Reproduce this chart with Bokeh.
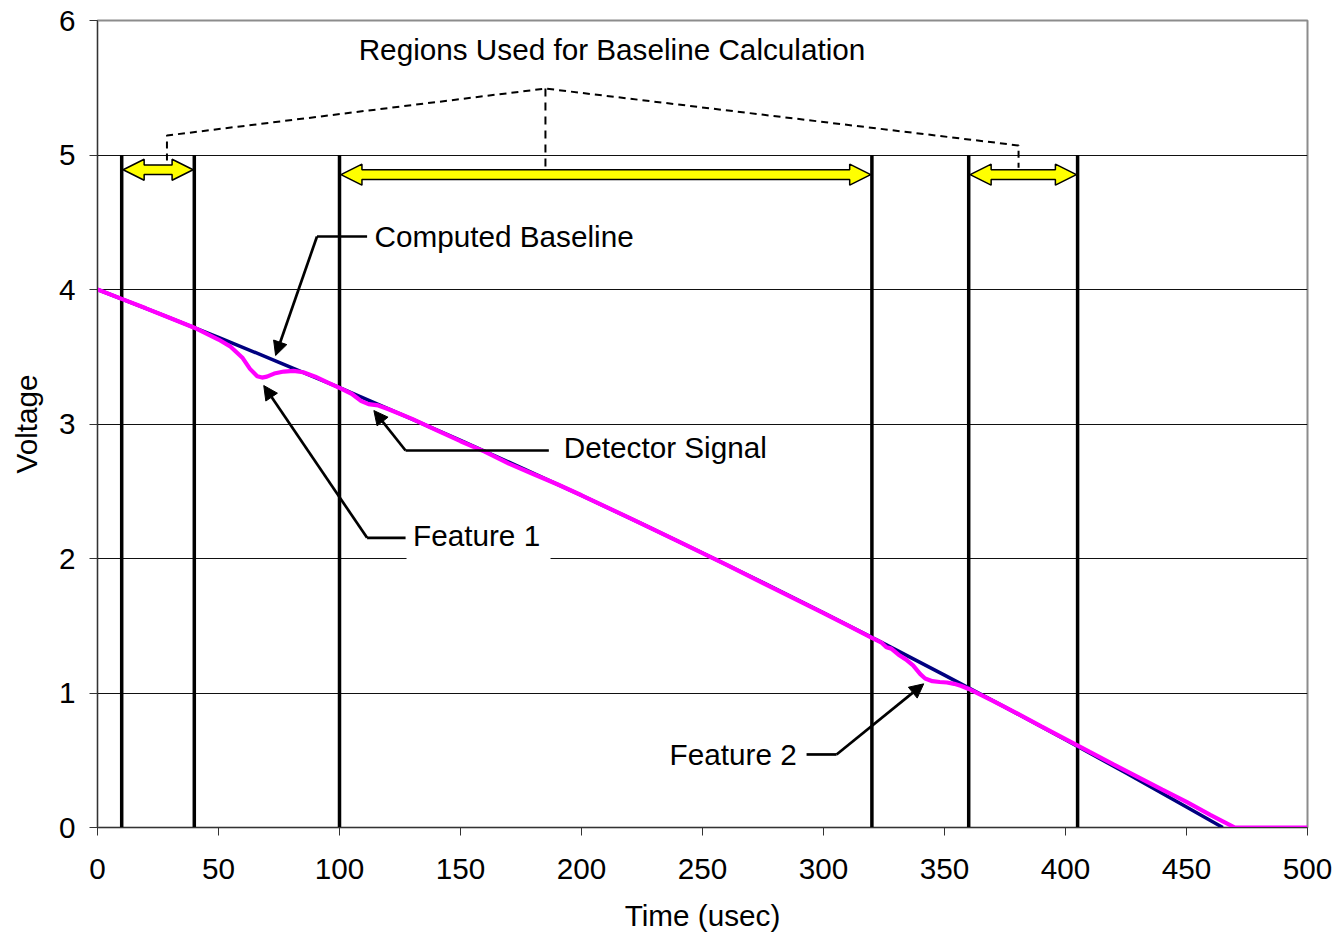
from bokeh.plotting import figure
from bokeh.models import (Range1d, FixedTicker, Label, Arrow, NormalHead,
                          BoxAnnotation)
from bokeh.embed import file_html
from bokeh.resources import INLINE

# ---------------- data ----------------
time_base = [0, 25, 50, 75, 100, 125, 150, 175, 200, 225, 250, 275, 300,
             325, 350, 375, 400, 425, 450, 465]
baseline_v = [4.000, 3.824, 3.644, 3.459, 3.270, 3.076, 2.878, 2.676, 2.469,
              2.257, 2.041, 1.821, 1.596, 1.367, 1.133, 0.895, 0.652, 0.405,
              0.153, 0.0]

time_sig = [0, 10, 20, 30, 40, 45, 50, 55, 60, 63, 66, 68, 70, 73, 77, 81, 85,
            90, 95, 100, 105, 109, 112, 116, 120, 130, 140, 150, 160, 170,
            180, 190, 200, 220, 240, 260, 280, 300, 310, 320, 324, 326, 328,
            331, 334, 337, 340, 342, 345, 348, 351, 354, 357, 360, 370, 380,
            390, 400, 410, 420, 430, 440, 450, 460, 465, 470, 480, 490, 500]
signal_v = [4.000, 3.930, 3.860, 3.788, 3.716, 3.672, 3.628, 3.575, 3.490,
            3.410, 3.355, 3.345, 3.352, 3.375, 3.390, 3.395, 3.385, 3.352,
            3.310, 3.268, 3.225, 3.170, 3.148, 3.138, 3.112, 3.038, 2.955,
            2.872, 2.795, 2.705, 2.628, 2.552, 2.470, 2.300, 2.128, 1.952,
            1.772, 1.594, 1.502, 1.410, 1.374, 1.340, 1.330, 1.285, 1.250,
            1.205, 1.140, 1.108, 1.088, 1.082, 1.078, 1.068, 1.052, 1.030,
            0.942, 0.848, 0.752, 0.657, 0.562, 0.468, 0.375, 0.282, 0.190,
            0.092, 0.046, 0.0, 0.0, 0.0, 0.0]

region_bounds = [10, 40, 100, 320, 360, 405]
region_top = 5

x_ticks = [0, 50, 100, 150, 200, 250, 300, 350, 400, 450, 500]
y_ticks = [0, 1, 2, 3, 4, 5, 6]

title_text = "Regions Used for Baseline Calculation"
label_texts = ["Computed Baseline", "Detector Signal", "Feature 1", "Feature 2"]

# ---------------- figure ----------------
FONT = "Liberation Sans"
FS = "29.7px"

p = figure(width=1338, height=937, x_range=Range1d(0, 500),
           y_range=Range1d(0, 6), output_backend="svg",
           toolbar_location=None, min_border_left=97, min_border_right=31,
           min_border_top=20, min_border_bottom=110,
           x_axis_label="Time (usec)", y_axis_label="Voltage")
p.background_fill_color = "white"
p.border_fill_color = "white"
p.outline_line_color = "#8c8c8c"
p.outline_line_width = 2

PX_X = 1210 / 500.0
PX_Y = 807 / 6.0

for ax, ticks in ((p.xaxis[0], x_ticks), (p.yaxis[0], y_ticks)):
    ax.ticker = FixedTicker(ticks=ticks)
    ax.minor_tick_line_color = None
    ax.major_tick_in = 0
    ax.major_tick_out = 8
    ax.axis_line_color = "#333333"
    ax.major_tick_line_color = "#333333"
    ax.major_label_text_font = FONT
    ax.major_label_text_font_size = FS
    ax.major_label_text_color = "black"
    ax.axis_label_text_font = FONT
    ax.axis_label_text_font_size = FS
    ax.axis_label_text_font_style = "normal"
    ax.axis_label_text_color = "black"
p.xaxis.major_label_standoff = 23
p.xaxis.axis_label_standoff = 17
p.yaxis.major_label_standoff = 14
p.yaxis.axis_label_standoff = 13

p.xgrid.visible = False
p.ygrid.ticker = FixedTicker(ticks=[1, 2, 3, 4, 5])
p.ygrid.grid_line_color = "#111111"
p.ygrid.grid_line_width = 1

# region boundary lines
p.segment(x0=region_bounds, y0=[0] * len(region_bounds), x1=region_bounds,
          y1=[region_top] * len(region_bounds), line_color="black",
          line_width=3.5)

# curves
p.line(time_base, baseline_v, line_color="#000080", line_width=3.5)
p.line(time_sig, signal_v, line_color="#FF00FF", line_width=4.2)

# yellow double arrows between region bounds
def block_arrow(x0, x1, yc, head_len=21, head_half=10.5, shaft_half=4.8):
    dx = head_len / PX_X
    hh = head_half / PX_Y
    sh = shaft_half / PX_Y
    xs = [x0, x0 + dx, x0 + dx, x1 - dx, x1 - dx, x1, x1 - dx, x1 - dx,
          x0 + dx, x0 + dx]
    ys = [yc, yc + hh, yc + sh, yc + sh, yc + hh, yc, yc - hh, yc - sh,
          yc - sh, yc - hh]
    return xs, ys

arrow_y = [4.89, 4.854, 4.854]
for i in range(3):
    a, b = region_bounds[2 * i], region_bounds[2 * i + 1]
    xs, ys = block_arrow(a + 0.6, b - 0.5, arrow_y[i])
    p.patch(xs, ys, fill_color="#FFFF00", line_color="black", line_width=1.5)

# dashed bracket
p.line([28.7, 28.7, 185.1, 380.6, 380.6], [4.96, 5.145, 5.494, 5.071, 4.905],
       line_color="black", line_width=2, line_dash="7 5")
p.line([185.1, 185.1], [5.494, 4.905], line_color="black", line_width=2,
       line_dash="8 6")

# title label
p.add_layout(Label(x=212.6, y=5.784, text=title_text, text_font=FONT,
                   text_font_size=FS, text_align="center",
                   text_baseline="middle", text_color="black"))

# white box behind Feature 1
p.add_layout(BoxAnnotation(left=127.7, right=187.2, bottom=1.97, top=2.30,
                           fill_color="white", fill_alpha=1.0,
                           line_color=None, level="glyph"))

# callouts: (label x, label y, connector xs, connector ys)
callouts = [
    (114.5, 4.394, [111.4, 90.7, 73.6], [4.394, 4.394, 3.509]),
    (192.7, 2.822, [186.5, 127.3, 114.2], [2.803, 2.803, 3.100]),
    (130.4, 2.171, [127.3, 111.4, 68.7], [2.154, 2.154, 3.286]),
    (236.4, 0.543, [293.0, 305.4, 341.4], [0.543, 0.543, 1.068]),
]
for (lx, ly, cx, cy), txt in zip(callouts, label_texts):
    p.line(cx[:-1], cy[:-1], line_color="black", line_width=2.7)
    p.add_layout(Arrow(end=NormalHead(size=14, fill_color="black",
                                      line_color="black", line_width=1),
                       x_start=cx[-2], y_start=cy[-2], x_end=cx[-1],
                       y_end=cy[-1], line_color="black", line_width=2.7))
    p.add_layout(Label(x=lx, y=ly, text=txt, text_font=FONT,
                       text_font_size=FS, text_align="left",
                       text_baseline="middle", text_color="black"))

open("out.html", "w").write(file_html(p, INLINE))
